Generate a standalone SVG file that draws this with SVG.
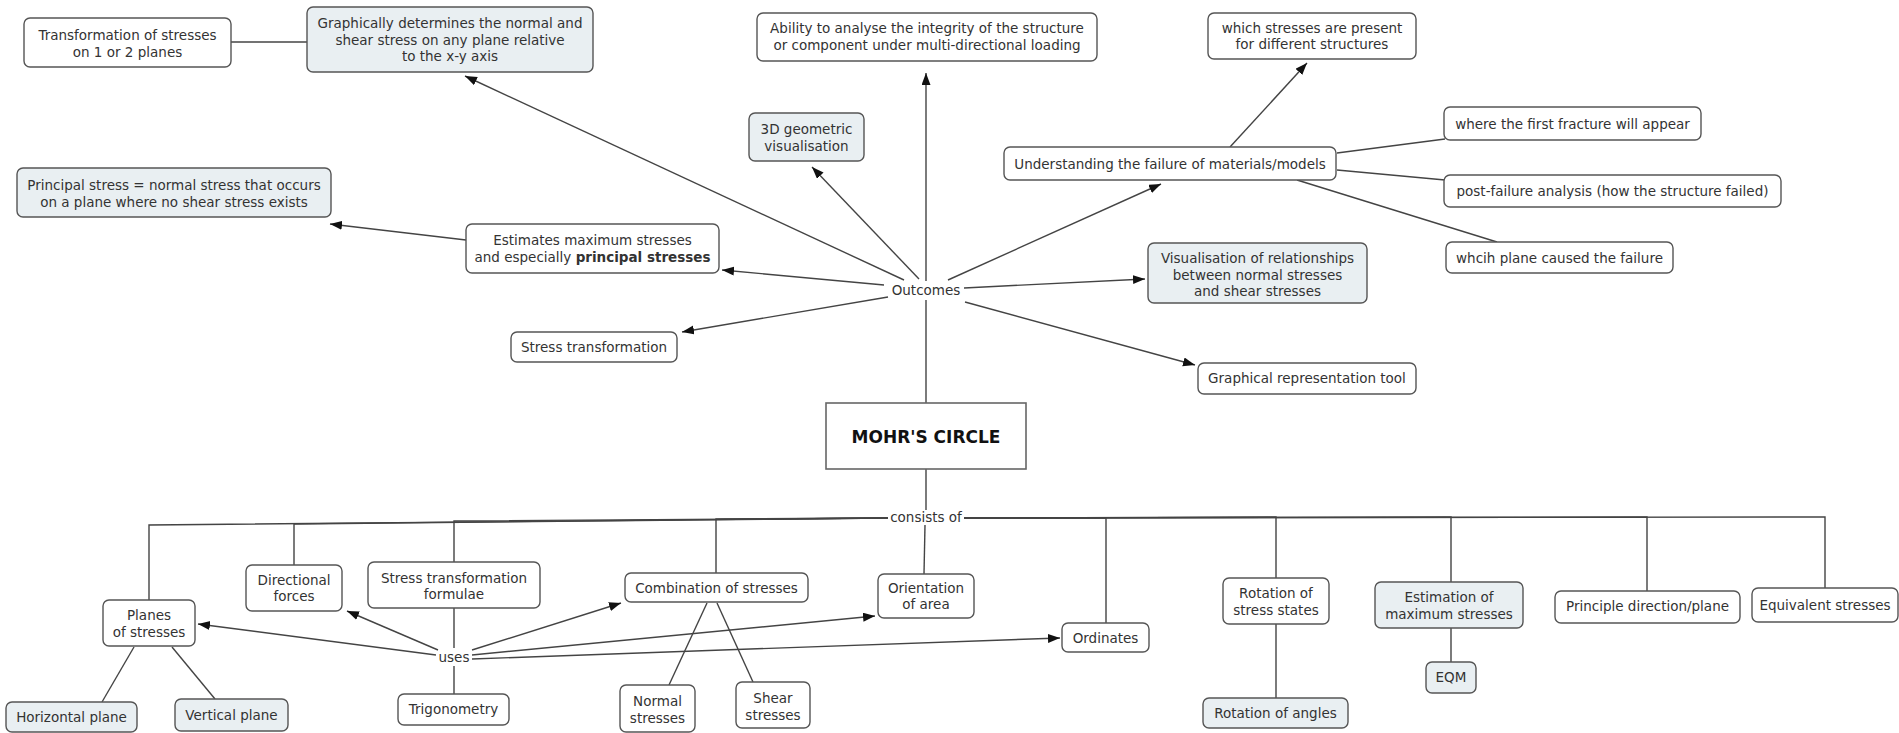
<svg xmlns="http://www.w3.org/2000/svg" width="1899" height="733" viewBox="0 0 1899 733">
<style>
text{font-family:"DejaVu Sans","Verdana",sans-serif;font-size:13.5px;fill:#333;text-anchor:middle}
.b{fill:#fff;stroke:#555;stroke-width:1.4}
.l{fill:#e9eff2;stroke:#555;stroke-width:1.4}
.c{fill:none;stroke:#444;stroke-width:1.4}
.a{fill:none;stroke:#444;stroke-width:1.4;marker-end:url(#ah)}
.bold{font-weight:bold}
</style>
<defs>
<marker id="ah" markerUnits="userSpaceOnUse" markerWidth="13" markerHeight="10" refX="12" refY="4.5" orient="auto">
<path d="M0,0 L12,4.5 L0,9 Z" fill="#111"/>
</marker>
</defs>
<rect width="1899" height="733" fill="#fff"/>
<g id="connectors">
<line class="c" x1="231" y1="42" x2="307" y2="42"/>
<line class="c" x1="926" y1="403" x2="926" y2="300"/>
<line class="a" x1="926" y1="281" x2="926" y2="73"/>
<line class="a" x1="904" y1="280" x2="465" y2="76"/>
<line class="a" x1="919" y1="279" x2="812" y2="167"/>
<line class="a" x1="948" y1="280" x2="1161" y2="184"/>
<line class="a" x1="884" y1="285" x2="722" y2="270"/>
<line class="a" x1="964" y1="288" x2="1145" y2="279"/>
<line class="a" x1="888" y1="297" x2="682" y2="332"/>
<line class="a" x1="965" y1="302" x2="1195" y2="365"/>
<line class="a" x1="466" y1="240" x2="330" y2="224"/>
<line class="a" x1="1230" y1="147" x2="1307" y2="63"/>
<line class="c" x1="1337" y1="153" x2="1445" y2="139"/>
<line class="c" x1="1337" y1="170" x2="1445" y2="180"/>
<line class="c" x1="1297" y1="180" x2="1497" y2="242"/>
<line class="c" x1="926" y1="469" x2="926" y2="510"/>
<polyline class="c" points="888,518 149,525 149,600"/>
<polyline class="c" points="888,518 294,524 294,565"/>
<polyline class="c" points="888,518 454,521 454,562"/>
<polyline class="c" points="888,518 716,519 716,573"/>
<line class="c" x1="925" y1="525" x2="924" y2="574"/>
<polyline class="c" points="964,518 1106,518 1106,623"/>
<polyline class="c" points="964,518 1276,517 1276,578"/>
<polyline class="c" points="964,518 1451,517 1451,582"/>
<polyline class="c" points="964,518 1647,517 1647,591"/>
<polyline class="c" points="964,518 1825,517 1825,588"/>
<line class="c" x1="454" y1="608" x2="454" y2="648"/>
<line class="c" x1="454" y1="666" x2="454" y2="694"/>
<line class="a" x1="436" y1="655" x2="198" y2="624"/>
<line class="a" x1="438" y1="650" x2="347" y2="611"/>
<line class="a" x1="472" y1="650" x2="621" y2="603"/>
<line class="a" x1="472" y1="655" x2="875" y2="616"/>
<line class="a" x1="472" y1="659" x2="1060" y2="638"/>
<line class="c" x1="134" y1="647" x2="102" y2="702"/>
<line class="c" x1="172" y1="647" x2="215" y2="699"/>
<line class="c" x1="707" y1="603" x2="669" y2="685"/>
<line class="c" x1="717" y1="603" x2="753" y2="682"/>
<line class="c" x1="1276" y1="624" x2="1276" y2="698"/>
<line class="c" x1="1451" y1="628" x2="1451" y2="662"/>
</g>
<g id="n_transf"><rect class="b" x="24" y="18" width="207" height="49" rx="6"/><text x="127.5" y="40">Transformation of stresses</text><text x="127.5" y="57">on 1 or 2 planes</text></g>
<g id="n_graph"><rect class="l" x="307" y="7" width="286" height="65" rx="6"/><text x="450" y="28">Graphically determines the normal and</text><text x="450" y="44.5">shear stress on any plane relative</text><text x="450" y="61">to the x-y axis</text></g>
<g id="n_ability"><rect class="b" x="757" y="13" width="340" height="48" rx="6"/><text x="927" y="33">Ability to analyse the integrity of the structure</text><text x="927" y="50">or component under multi-directional loading</text></g>
<g id="n_which"><rect class="b" x="1208" y="13" width="208" height="46" rx="6"/><text x="1312" y="33">which stresses are present</text><text x="1312" y="49">for different structures</text></g>
<g id="n_3d"><rect class="l" x="749" y="113" width="115" height="48" rx="6"/><text x="806.5" y="134">3D geometric</text><text x="806.5" y="150.5">visualisation</text></g>
<g id="n_underst"><rect class="b" x="1004" y="147" width="332" height="33" rx="6"/><text x="1170" y="168.5">Understanding the failure of materials/models</text></g>
<g id="n_where"><rect class="b" x="1444" y="107" width="257" height="33" rx="6"/><text x="1572.5" y="128.5">where the first fracture will appear</text></g>
<g id="n_post"><rect class="b" x="1444" y="175" width="337" height="32" rx="6"/><text x="1612.5" y="196">post-failure analysis (how the structure failed)</text></g>
<g id="n_whcih"><rect class="b" x="1446" y="242" width="227" height="31" rx="6"/><text x="1559.5" y="262.5">whcih plane caused the failure</text></g>
<g id="n_principal"><rect class="l" x="17" y="168" width="314" height="49" rx="6"/><text x="174" y="190">Principal stress = normal stress that occurs</text><text x="174" y="207">on a plane where no shear stress exists</text></g>
<g id="n_estimates"><rect class="b" x="466" y="224" width="253" height="49" rx="6"/><text x="592.5" y="245">Estimates maximum stresses</text><text x="592.5" y="262">and especially <tspan class="bold">principal stresses</tspan></text></g>
<g id="n_visual"><rect class="l" x="1148" y="243" width="219" height="60" rx="6"/><text x="1257.5" y="263">Visualisation of relationships</text><text x="1257.5" y="279.5">between normal stresses</text><text x="1257.5" y="296">and shear stresses</text></g>
<g id="n_outcomes"><text x="926" y="295">Outcomes</text></g>
<g id="n_stresstr"><rect class="b" x="511" y="332" width="166" height="30" rx="6"/><text x="594" y="352">Stress transformation</text></g>
<g id="n_graphrep"><rect class="b" x="1198" y="363" width="218" height="31" rx="6"/><text x="1307" y="383">Graphical representation tool</text></g>
<g id="n_mohr"><rect x="826" y="403" width="200" height="66" fill="#fff" stroke="#666" stroke-width="1.6"/><text x="926" y="443" class="bold" style="font-size:17px;fill:#111">MOHR'S CIRCLE</text></g>
<g id="n_consists"><text x="926" y="522">consists of</text></g>
<g id="n_planes"><rect class="b" x="103" y="600" width="92" height="46" rx="6"/><text x="149" y="620">Planes</text><text x="149" y="637">of stresses</text></g>
<g id="n_dirf"><rect class="b" x="246" y="565" width="96" height="46" rx="6"/><text x="294" y="585">Directional</text><text x="294" y="601">forces</text></g>
<g id="n_stf"><rect class="b" x="368" y="562" width="172" height="46" rx="6"/><text x="454" y="583">Stress transformation</text><text x="454" y="599">formulae</text></g>
<g id="n_uses"><text x="454" y="662">uses</text></g>
<g id="n_comb"><rect class="b" x="625" y="573" width="183" height="29" rx="6"/><text x="716.5" y="593">Combination of stresses</text></g>
<g id="n_orient"><rect class="b" x="878" y="574" width="96" height="44" rx="6"/><text x="926" y="593">Orientation</text><text x="926" y="609">of area</text></g>
<g id="n_ord"><rect class="b" x="1062" y="623" width="87" height="29" rx="6"/><text x="1105.5" y="643">Ordinates</text></g>
<g id="n_rot"><rect class="b" x="1223" y="578" width="106" height="46" rx="6"/><text x="1276" y="598">Rotation of</text><text x="1276" y="615">stress states</text></g>
<g id="n_est"><rect class="l" x="1375" y="582" width="148" height="46" rx="6"/><text x="1449" y="602">Estimation of</text><text x="1449" y="619">maximum stresses</text></g>
<g id="n_princ"><rect class="b" x="1555" y="591" width="185" height="32" rx="6"/><text x="1647.5" y="611">Principle direction/plane</text></g>
<g id="n_equiv"><rect class="b" x="1752" y="588" width="146" height="34" rx="6"/><text x="1825" y="610">Equivalent stresses</text></g>
<g id="n_horiz"><rect class="l" x="6" y="702" width="131" height="30" rx="6"/><text x="71.5" y="722">Horizontal plane</text></g>
<g id="n_vert"><rect class="l" x="175" y="699" width="113" height="32" rx="6"/><text x="231.5" y="720">Vertical plane</text></g>
<g id="n_trig"><rect class="b" x="398" y="694" width="111" height="31" rx="6"/><text x="453.5" y="714">Trigonometry</text></g>
<g id="n_normal"><rect class="b" x="620" y="685" width="75" height="47" rx="6"/><text x="657.5" y="706">Normal</text><text x="657.5" y="723">stresses</text></g>
<g id="n_shear"><rect class="b" x="736" y="682" width="74" height="46" rx="6"/><text x="773" y="703">Shear</text><text x="773" y="720">stresses</text></g>
<g id="n_rotang"><rect class="l" x="1203" y="698" width="145" height="30" rx="6"/><text x="1275.5" y="718">Rotation of angles</text></g>
<g id="n_eqm"><rect class="l" x="1426" y="662" width="50" height="31" rx="6"/><text x="1451" y="682">EQM</text></g>
</svg>
